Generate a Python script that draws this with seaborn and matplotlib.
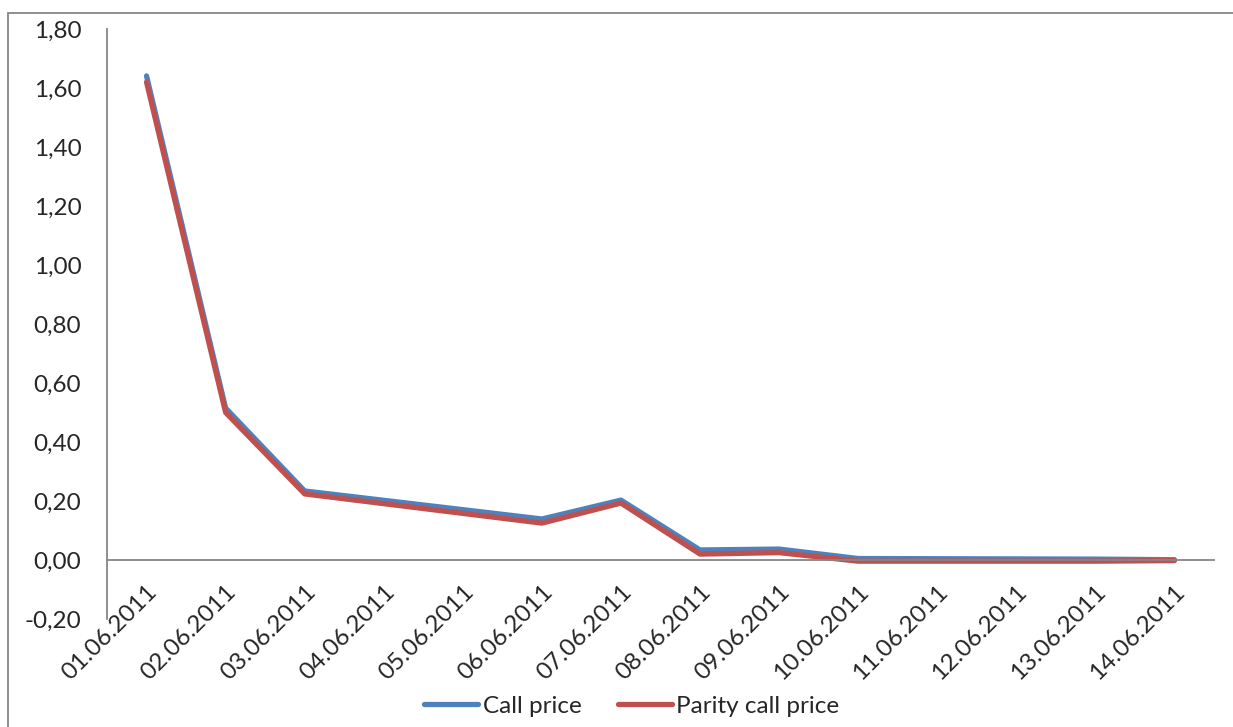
import pandas as pd
import matplotlib
matplotlib.use("Agg")
import matplotlib.pyplot as plt
import matplotlib.dates as mdates
from matplotlib.ticker import FuncFormatter, FixedLocator
from matplotlib.patches import Rectangle
import seaborn as sns

# values
dates = ["01.06.2011", "02.06.2011", "03.06.2011", "06.06.2011", "07.06.2011",
         "08.06.2011", "09.06.2011", "10.06.2011", "13.06.2011", "14.06.2011"]
call_price = [1.641, 0.515, 0.234, 0.139, 0.203, 0.034, 0.037, 0.005, 0.003, 0.001]
parity_call_price = [1.620, 0.500, 0.224, 0.125, 0.193, 0.020, 0.025, -0.004, -0.004, -0.002]
axis_days = pd.date_range("2011-06-01", "2011-06-14", freq="D")

sns.set_theme(style="white")
plt.rcParams["font.family"] = ["Lato", "DejaVu Sans"]
FS = 17.5
GREY = "#868686"

x = pd.to_datetime(dates, format="%d.%m.%Y")
df = pd.DataFrame({
    "date": list(x) * 2,
    "value": call_price + parity_call_price,
    "series": ["Call price"] * len(x) + ["Parity call price"] * len(x),
})

fig = plt.figure(figsize=(12.33, 7.27), dpi=100)
ax = fig.add_axes([107 / 1233, 1 - 619 / 727, (1214 - 107) / 1233, (619 - 29) / 727])

sns.lineplot(data=df, x="date", y="value", hue="series",
             palette={"Call price": "#4F81BD", "Parity call price": "#C0504D"},
             linewidth=3.8, ax=ax, legend=False, solid_capstyle="round")

# spines first: moving a spine resets the ticks
ax.spines["bottom"].set_position(("data", 0))
for s in ["top", "right"]:
    ax.spines[s].set_visible(False)
for s in ["left", "bottom"]:
    ax.spines[s].set_color(GREY)
    ax.spines[s].set_linewidth(1.3)

half = pd.Timedelta(hours=12)
ax.set_xlim(axis_days[0] - half, axis_days[-1] + half)
ax.set_ylim(-0.2, 1.8)
ax.set_yticks([-0.2 + 0.2 * i for i in range(11)])
ax.yaxis.set_major_formatter(FuncFormatter(lambda v, p: f"{v:.2f}".replace(".", ",")))

# labels at day centres, tick marks at day boundaries
ax.set_xticks(mdates.date2num(axis_days), labels=[d.strftime("%d.%m.%Y") for d in axis_days])
bounds = list(axis_days - half) + [axis_days[-1] + half]
ax.xaxis.set_minor_locator(FixedLocator(mdates.date2num(bounds)))
ax.tick_params(axis="x", which="major", length=0, labelsize=FS, pad=15, labelrotation=45)
ax.tick_params(axis="x", which="minor", length=6.5, width=1.3, color=GREY, direction="out")
ax.tick_params(axis="y", length=6.5, width=1.3, color=GREY, direction="out", labelsize=FS, pad=12)
for lab in ax.get_xticklabels():
    lab.set_ha("right")
    lab.set_va("top")
    lab.set_rotation_mode("anchor")
ax.set_xlabel("")
ax.set_ylabel("")

handles = [plt.Line2D([], [], color="#4F81BD", lw=3.8, solid_capstyle="round"),
           plt.Line2D([], [], color="#C0504D", lw=3.8, solid_capstyle="round")]
fig.legend(handles, ["Call price", "Parity call price"], loc="center",
           bbox_to_anchor=(632 / 1233, 1 - 706 / 727), ncol=2, frameon=False,
           fontsize=FS, handlelength=2.2, handletextpad=0.2, columnspacing=1.5)

# outer chart border (right and bottom edges fall outside the image)
fig.patches.append(Rectangle((8 / 1233, -10 / 727), 1240 / 1233, (727 - 12.5 + 10) / 727,
                             transform=fig.transFigure, fill=False,
                             edgecolor=GREY, linewidth=1.3))

fig.savefig("out.png", dpi=100, facecolor="white")
